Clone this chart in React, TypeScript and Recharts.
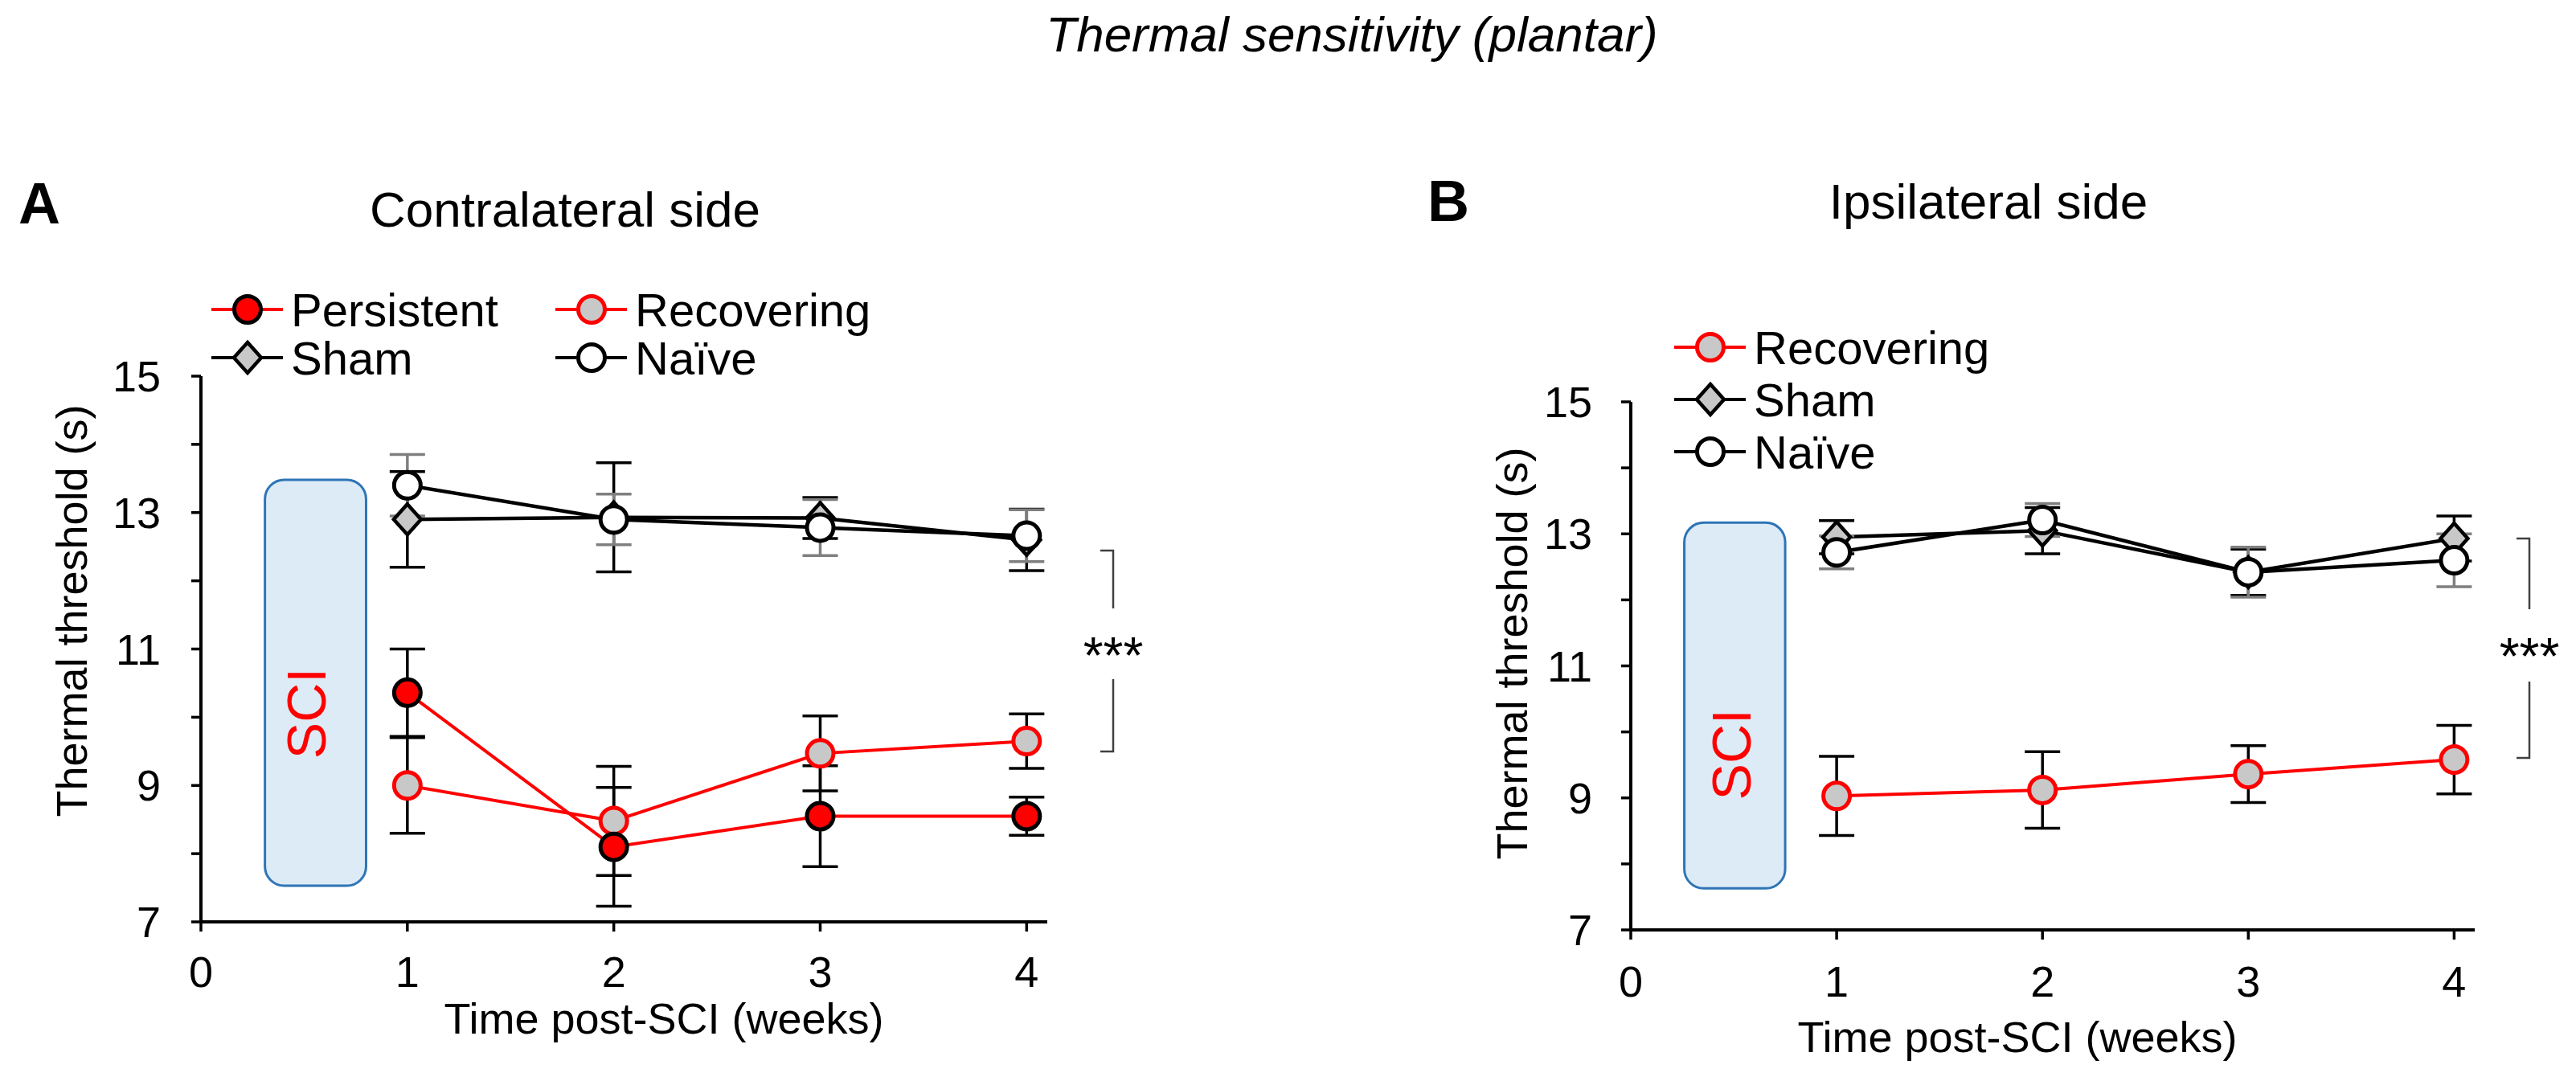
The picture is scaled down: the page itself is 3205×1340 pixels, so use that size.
import React from "react";
import {
  LineChart,
  Line,
  XAxis,
  YAxis,
  ErrorBar,
  ReferenceArea,
  Legend,
  Label,
} from "recharts";

const WEEKS = [1, 2, 3, 4];
const X_TICKS = [0, 1, 2, 3, 4];
const Y_TICKS = [7, 8, 9, 10, 11, 12, 13, 14, 15];

// A: contralateral side
const contraPersistent = [10.36, 8.1, 8.55, 8.55];
const contraPersistentErr = [0.64, 0.87, 0.74, 0.28];
const contraRecovering = [9.0, 8.48, 9.47, 9.65];
const contraRecoveringErr = [0.7, 0.8, 0.55, 0.4];
const contraSham = [12.9, 12.93, 12.92, 12.6];
const contraShamErr = [0.7, 0.8, 0.3, 0.45];
const contraNaive = [13.4, 12.9, 12.78, 12.66];
const contraNaiveErr = [0.45, 0.37, 0.41, 0.38];

// B: ipsilateral side
const ipsiRecovering = [9.03, 9.12, 9.36, 9.58];
const ipsiRecoveringErr = [0.6, 0.58, 0.43, 0.52];
const ipsiSham = [12.95, 13.05, 12.42, 12.93];
const ipsiShamErr = [0.25, 0.35, 0.35, 0.34];
const ipsiNaive = [12.72, 13.21, 12.42, 12.6];
const ipsiNaiveErr = [0.25, 0.25, 0.38, 0.4];

// SCI period box, in data units
const SCI_A = { x1: 0.31, x2: 0.8, y1: 7.53, y2: 13.48 };
const SCI_B = { x1: 0.26, x2: 0.75, y1: 7.63, y2: 13.17 };

const FONT = "'Liberation Sans', Arial, Helvetica, sans-serif";
const RED = "#FF0000";

const STYLES: Record<string, any> = {
  Persistent: { line: RED, width: 4, fill: RED, stroke: "#000", shape: "circle", err: "#000" },
  Recovering: { line: RED, width: 4, fill: "#C8C8C8", stroke: RED, shape: "circle", err: "#000" },
  Sham: { line: "#000", width: 4.5, fill: "#C8C8C8", stroke: "#000", shape: "diamond", err: "#000" },
  "Naïve": { line: "#000", width: 4.5, fill: "#FFFFFF", stroke: "#000", shape: "circle", err: "#7F7F7F" },
};

const dataA = WEEKS.map((week, i) => ({
  week,
  pers: contraPersistent[i],
  persErr: contraPersistentErr[i],
  rec: contraRecovering[i],
  recErr: contraRecoveringErr[i],
  sham: contraSham[i],
  shamErr: contraShamErr[i],
  naive: contraNaive[i],
  naiveErr: contraNaiveErr[i],
}));

const dataB = WEEKS.map((week, i) => ({
  week,
  rec: ipsiRecovering[i],
  recErr: ipsiRecoveringErr[i],
  sham: ipsiSham[i],
  shamErr: ipsiShamErr[i],
  naive: ipsiNaive[i],
  naiveErr: ipsiNaiveErr[i],
}));

function marker(cx: number, cy: number, s: any, key?: string) {
  if (s.shape === "diamond") {
    return (
      <path
        key={key}
        d={`M${cx},${cy - 19}L${cx + 17},${cy}L${cx},${cy + 19}L${cx - 17},${cy}Z`}
        fill={s.fill}
        stroke={s.stroke}
        strokeWidth={4.5}
      />
    );
  }
  return <circle key={key} cx={cx} cy={cy} r={16.5} fill={s.fill} stroke={s.stroke} strokeWidth={5} />;
}

const dotFor = (name: string) => (p: any) => marker(p.cx, p.cy, STYLES[name], `${name}-${p.index}`);

function makeLegend(slots: Record<string, { x: number; y: number }>) {
  return function LegendContent(props: any) {
    const payload = props.payload || [];
    return (
      <svg width={900} height={220} style={{ overflow: "visible" }}>
        {payload.map((entry: any) => {
          const slot = slots[entry.value];
          if (!slot) return null;
          const s = STYLES[entry.value];
          return (
            <g key={entry.value}>
              <line x1={slot.x} x2={slot.x + 89} y1={slot.y} y2={slot.y} stroke={s.line} strokeWidth={4} />
              {marker(slot.x + 45, slot.y, s)}
              <text x={slot.x + 99} y={slot.y + 21} fontSize={58} fontFamily={FONT} fill="#000">
                {entry.value}
              </text>
            </g>
          );
        })}
      </svg>
    );
  };
}

const sciShape = (dx: number, dy: number) => (p: any) => {
  const cx = p.x + p.width / 2 + dx;
  const cy = p.y + p.height / 2 + dy;
  return (
    <g>
      <rect x={p.x} y={p.y} width={p.width} height={p.height} rx={24} ry={24} fill="#DDEBF7" stroke="#2E75B6" strokeWidth={3} />
      <text
        x={cx}
        y={cy}
        transform={`rotate(-90 ${cx} ${cy})`}
        textAnchor="middle"
        fontSize={68}
        fontFamily={FONT}
        fill={RED}
      >
        SCI
      </text>
    </g>
  );
};

const axisLine = { stroke: "#000", strokeWidth: 4 };
const tickLine = { stroke: "#000", strokeWidth: 3.5 };
const tickStyle = { fontSize: 54, fontFamily: FONT, fill: "#000" };
const oddOnly = (v: number) => (v % 2 === 1 ? String(v) : "");

function yLabel(x: number, y: number) {
  return () => (
    <text x={x} y={y} transform={`rotate(-90 ${x} ${y})`} textAnchor="middle" fontSize={54} fontFamily={FONT} fill="#000">
      Thermal threshold (s)
    </text>
  );
}

function xLabel(x: number, y: number) {
  return () => (
    <text x={x} y={y} textAnchor="middle" fontSize={54} fontFamily={FONT} fill="#000">
      Time post-SCI (weeks)
    </text>
  );
}

function seriesLine(key: string, name: string, errKey: string) {
  const s = STYLES[name];
  return (
    <Line
      key={key}
      type="linear"
      dataKey={key}
      name={name}
      stroke={s.line}
      strokeWidth={s.width}
      dot={dotFor(name)}
      activeDot={false}
      isAnimationActive={false}
    >
      <ErrorBar dataKey={errKey} direction="y" width={22} stroke={s.err} strokeWidth={3.5} />
    </Line>
  );
}

function PanelA() {
  return (
    <LineChart width={1500} height={1340} data={dataA} margin={{ top: 468, left: 140, right: 197, bottom: 133 }}>
      <XAxis
        type="number"
        dataKey="week"
        domain={[0, 4.1]}
        ticks={X_TICKS}
        height={60}
        axisLine={axisLine}
        tickLine={tickLine}
        tickSize={12}
        tickMargin={31}
        tick={tickStyle}
      >
        <Label content={xLabel(826, 1286)} />
      </XAxis>
      <YAxis
        type="number"
        domain={[7, 15]}
        ticks={Y_TICKS}
        width={110}
        axisLine={axisLine}
        tickLine={tickLine}
        tickSize={12}
        tickMargin={38}
        tick={tickStyle}
        tickFormatter={oddOnly}
        interval={0}
      >
        <Label content={yLabel(108, 760)} />
      </YAxis>
      <ReferenceArea {...SCI_A} ifOverflow="visible" shape={sciShape(12, 38)} />
      {seriesLine("rec", "Recovering", "recErr")}
      {seriesLine("pers", "Persistent", "persErr")}
      {seriesLine("sham", "Sham", "shamErr")}
      {seriesLine("naive", "Naïve", "naiveErr")}
      <Legend
        layout="horizontal"
        verticalAlign="middle"
        align="center"
        wrapperStyle={{ left: 263, top: 345, width: 900, height: 220 }}
        content={makeLegend({
          Persistent: { x: 0, y: 40 },
          Recovering: { x: 428, y: 40 },
          Sham: { x: 0, y: 100 },
          "Naïve": { x: 428, y: 100 },
        })}
      />
    </LineChart>
  );
}

function PanelB() {
  return (
    <LineChart width={1425} height={1340} data={dataB} margin={{ top: 500, left: 139, right: 126, bottom: 123 }}>
      <XAxis
        type="number"
        dataKey="week"
        domain={[0, 4.1]}
        ticks={X_TICKS}
        height={60}
        axisLine={axisLine}
        tickLine={tickLine}
        tickSize={12}
        tickMargin={33}
        tick={tickStyle}
      >
        <Label content={xLabel(730, 1309)} />
      </XAxis>
      <YAxis
        type="number"
        domain={[7, 15]}
        ticks={Y_TICKS}
        width={110}
        axisLine={axisLine}
        tickLine={tickLine}
        tickSize={12}
        tickMargin={36}
        tick={tickStyle}
        tickFormatter={oddOnly}
        interval={0}
      >
        <Label content={yLabel(120, 813)} />
      </YAxis>
      <ReferenceArea {...SCI_B} ifOverflow="visible" shape={sciShape(20, 61)} />
      {seriesLine("rec", "Recovering", "recErr")}
      {seriesLine("sham", "Sham", "shamErr")}
      {seriesLine("naive", "Naïve", "naiveErr")}
      <Legend
        layout="horizontal"
        verticalAlign="middle"
        align="center"
        wrapperStyle={{ left: 303, top: 392, width: 900, height: 220 }}
        content={makeLegend({
          Recovering: { x: 0, y: 40 },
          Sham: { x: 0, y: 105 },
          "Naïve": { x: 0, y: 170 },
        })}
      />
    </LineChart>
  );
}

function Bracket({ x, top, gapTop, gapBottom, bottom }: any) {
  return (
    <g stroke="#404040" strokeWidth={2.5} fill="none">
      <path d={`M${x - 16},${top}H${x}V${gapTop}`} />
      <path d={`M${x},${gapBottom}V${bottom}H${x - 16}`} />
    </g>
  );
}

export default function App() {
  return (
    <div style={{ position: "absolute", left: 0, top: 0, width: 3205, height: 1340, background: "#fff" }}>
      <div style={{ position: "absolute", left: 0, top: 0 }}>
        <PanelA />
      </div>
      <div style={{ position: "absolute", left: 1780, top: 0 }}>
        <PanelB />
      </div>
      <svg
        width={3205}
        height={1340}
        style={{ position: "absolute", left: 0, top: 0, pointerEvents: "none" }}
        fontFamily={FONT}
      >
        <text x={1682} y={64} textAnchor="middle" fontSize={62} fontStyle="italic">
          Thermal sensitivity (plantar)
        </text>
        <text x={23} y={278} fontSize={72} fontWeight="bold">
          A
        </text>
        <text x={1776} y={275} fontSize={72} fontWeight="bold">
          B
        </text>
        <text x={703} y={282} textAnchor="middle" fontSize={62}>
          Contralateral side
        </text>
        <text x={2474} y={272} textAnchor="middle" fontSize={62}>
          Ipsilateral side
        </text>
        <Bracket x={1385} top={685} gapTop={757} gapBottom={845} bottom={935} />
        <text x={1385} y={838} textAnchor="middle" fontSize={64}>
          ***
        </text>
        <Bracket x={3147} top={670} gapTop={758} gapBottom={848} bottom={943} />
        <text x={3147} y={839} textAnchor="middle" fontSize={64}>
          ***
        </text>
      </svg>
    </div>
  );
}
